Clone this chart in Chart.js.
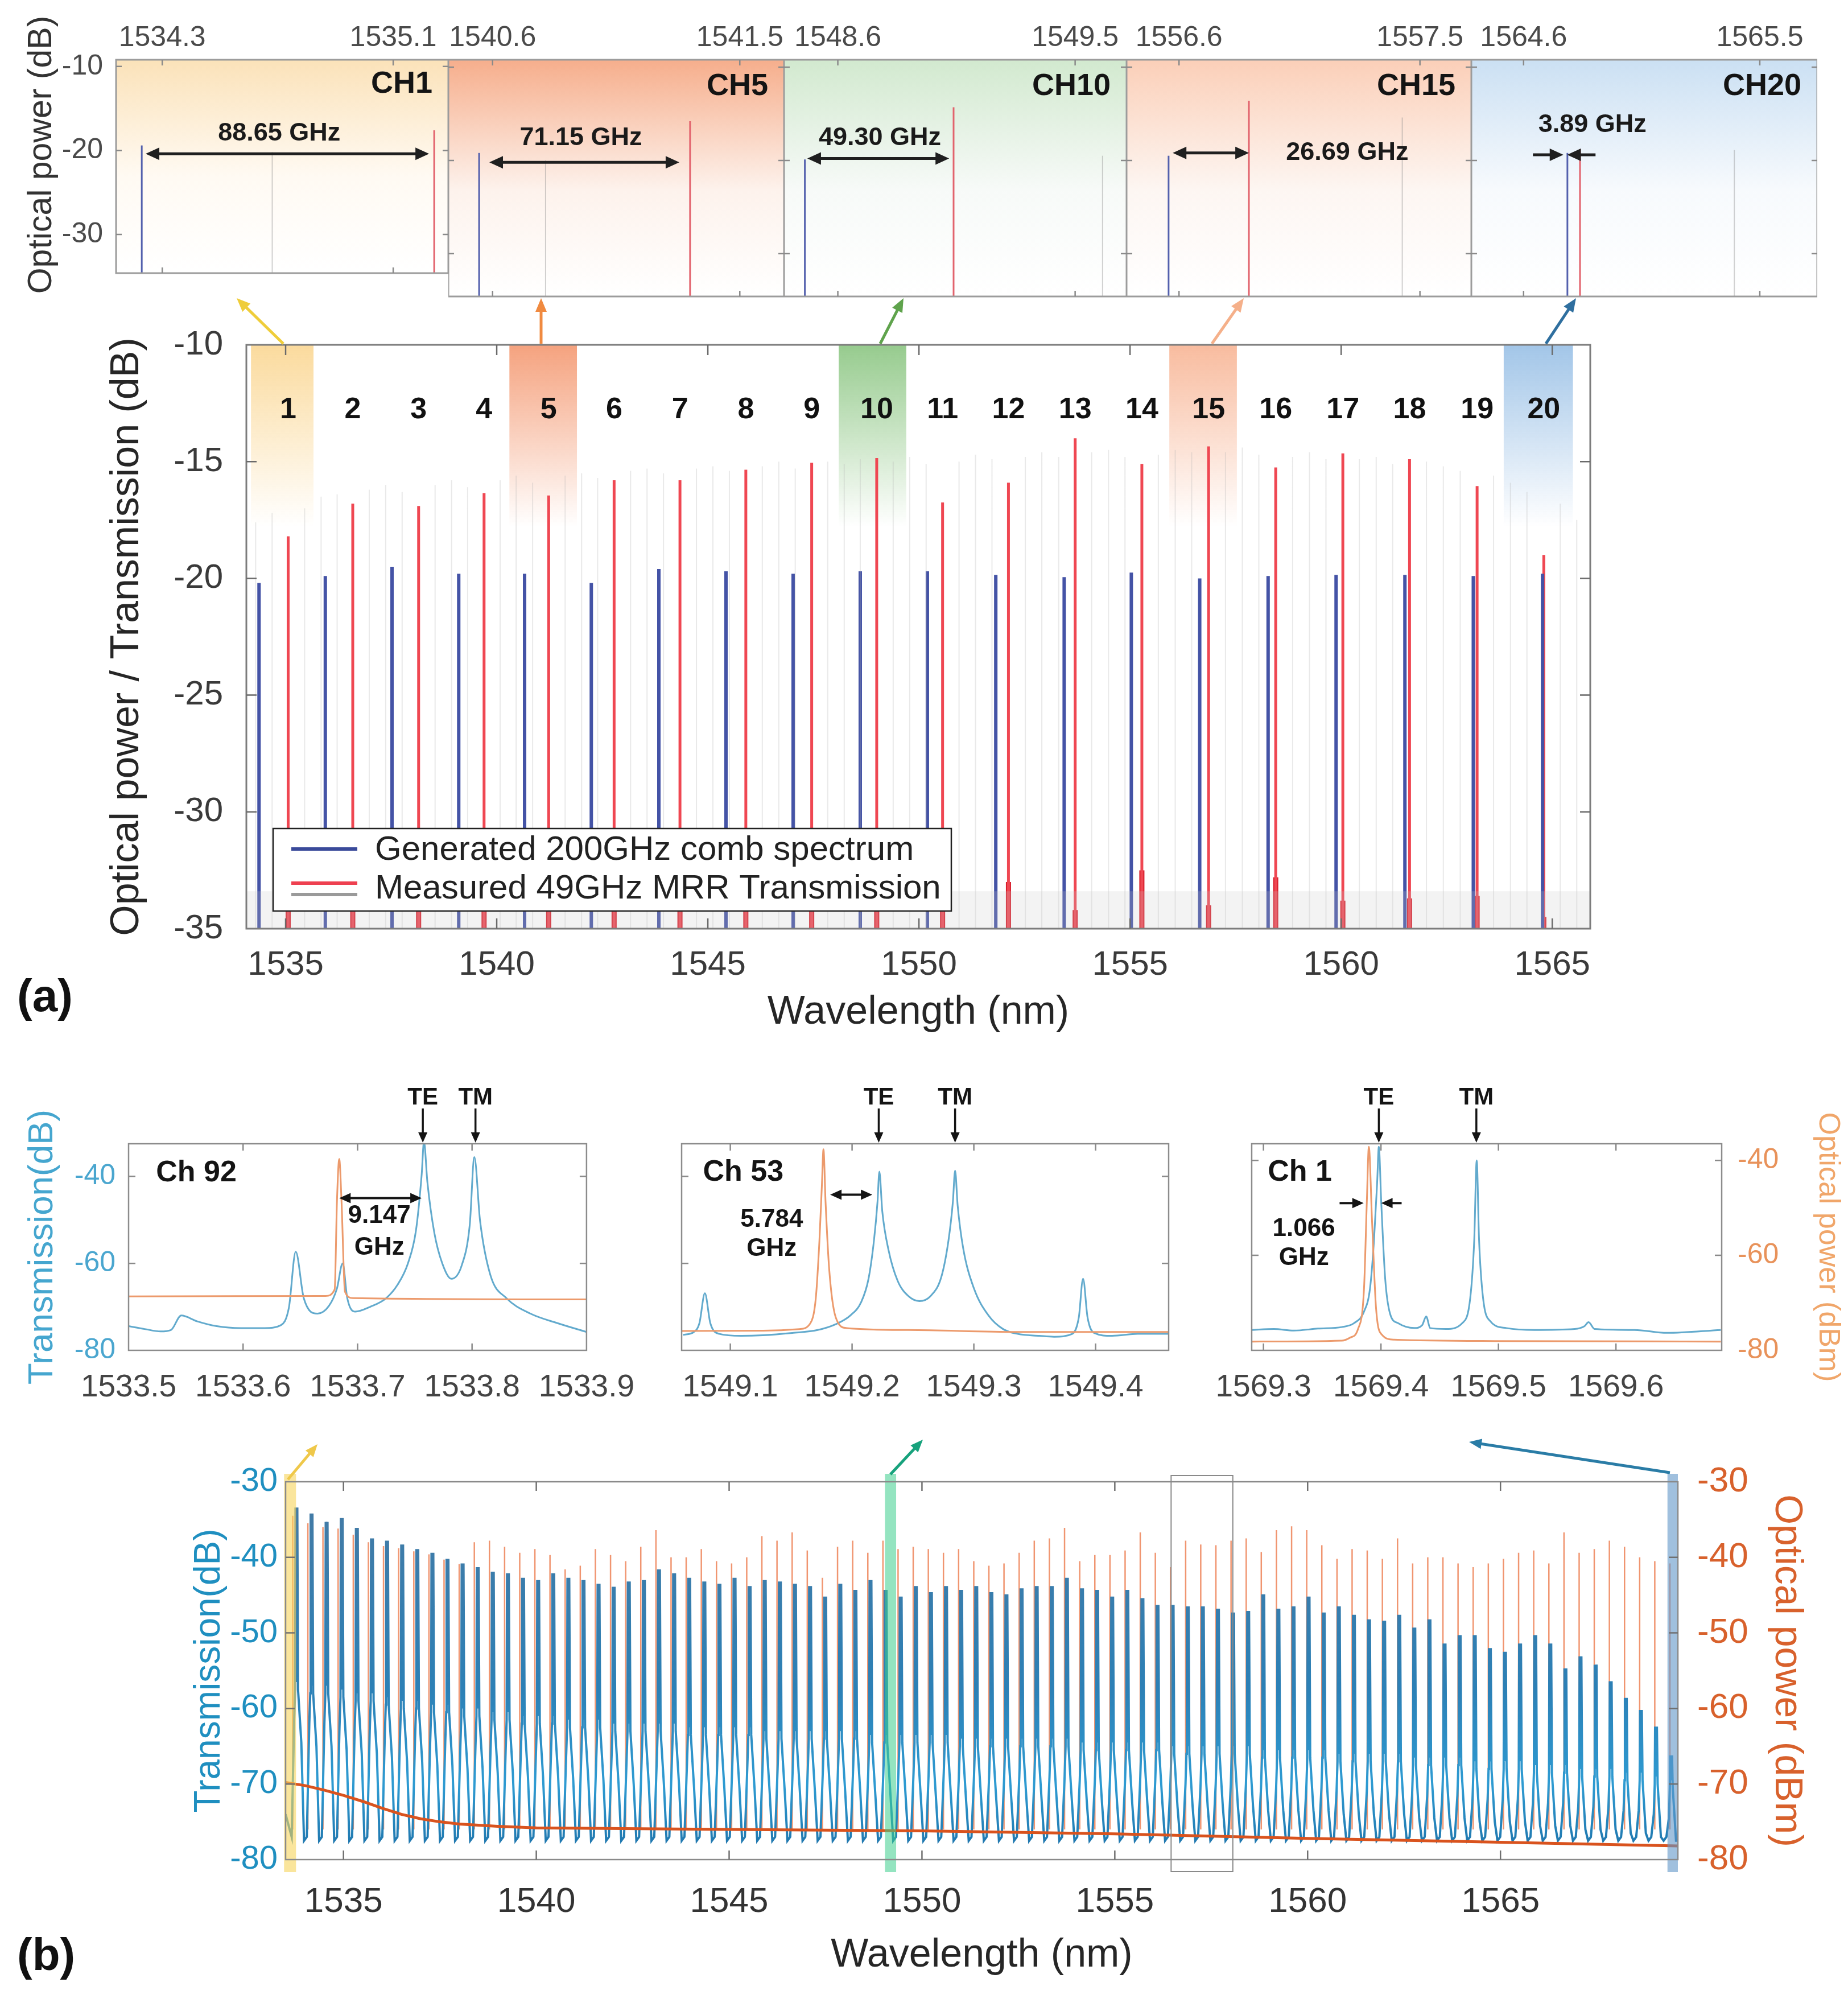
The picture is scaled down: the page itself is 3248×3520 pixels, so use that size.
<!DOCTYPE html>
<html>
<head>
<meta charset="utf-8">
<title>MRR comb spectra</title>
<script src="https://cdn.jsdelivr.net/npm/chart.js@4.4.1/dist/chart.umd.min.js"></script>
<style>
  html, body { margin: 0; padding: 0; background: #ffffff; }
  #page { position: relative; width: 3248px; height: 3520px; overflow: hidden; background: #ffffff; }
  #page canvas { position: absolute; }
  .tag { position: absolute; font-family: "Liberation Sans", Arial, Helvetica, sans-serif; font-weight: bold; font-size: 80px; line-height: 1; color: #111; }
</style>
</head>
<body>
<div id="page">
  <div class="tag" style="left:30px; top:1710px;">(a)</div>
  <div class="tag" style="left:30px; top:3395px;">(b)</div>
</div>
<script>
// ======================= DATA =======================
// ---- (a) top strip: zoomed views of selected channels ----
const zoomLabels   = ['CH1', 'CH5', 'CH10', 'CH15', 'CH20'];
const zoomTickLo   = [1534.3, 1540.6, 1548.6, 1556.6, 1564.6];
const zoomTickHi   = [1535.1, 1541.5, 1549.5, 1557.5, 1565.5];
const zoomMin      = [1534.140, 1540.439, 1548.396, 1556.404, 1564.401];
const zoomMax      = [1535.291, 1541.661, 1549.695, 1557.692, 1565.719];
const zoomCombWl   = [1534.229, 1540.551, 1548.475, 1556.561, 1564.767];
const zoomCombDb   = [-19.4, -19.2, -19.9, -19.5, -19.2];
const zoomMrrWl    = [1535.242, 1541.319, 1549.039, 1556.861, 1564.815];
const zoomMrrDb    = [-17.6, -15.8, -14.3, -13.6, -18.8];
const zoomGhostWl  = [1534.681, 1540.793, 1549.604, 1557.434, 1565.403];
const zoomGhostDb  = [-20.2, -20.0, -19.5, -15.4, -18.9];
const zoomSpacing  = ['88.65 GHz', '71.15 GHz', '49.30 GHz', '26.69 GHz', '3.89 GHz'];
const zoomYTicks   = [-30, -20, -10];

// ---- (a) main panel ----
const chanNo = [1,2,3,4,5,6,7,8,9,10,11,12,13,14,15,16,17,18,19,20];
const combWl = [1534.37,1535.94,1537.52,1539.10,1540.66,1542.24,1543.84,1545.43,1547.02,1548.61,
                1550.20,1551.82,1553.44,1555.03,1556.65,1558.27,1559.88,1561.51,1563.13,1564.77];
const combDb = [-20.2,-19.9,-19.5,-19.8,-19.8,-20.2,-19.6,-19.7,-19.8,-19.7,
                -19.7,-19.85,-19.95,-19.75,-20.0,-19.9,-19.85,-19.85,-19.9,-19.8];
const mrrWl  = [1535.06,1536.59,1538.15,1539.70,1541.23,1542.78,1544.34,1545.90,1547.46,1549.00,
                1550.56,1552.12,1553.70,1555.28,1556.86,1558.45,1560.04,1561.62,1563.22,1564.80];
const mrrDb  = [-18.2,-16.8,-16.9,-16.35,-16.45,-15.8,-15.8,-15.35,-15.05,-14.85,
                -16.75,-15.9,-14.0,-15.1,-14.35,-15.25,-14.65,-14.9,-16.05,-19.0];
const mrrFootDb = [-34.0,-34.2,-34.0,-34.1,-34.0,-34.2,-34.0,-34.1,-34.0,-34.2,
                   -34.0,-33.0,-34.2,-32.5,-34.0,-32.8,-33.8,-33.7,-33.6,-34.5];
const ghostWl = [1534.29,1534.68,1535.45,1535.84,1536.22,1536.98,1537.37,1537.76,1538.54,1538.93,1539.31,
                 1540.08,1540.46,1540.85,1541.62,1542.01,1542.39,1543.17,1543.56,1543.95,1544.73,1545.12,1545.51,
                 1546.29,1546.68,1547.07,1547.84,1548.23,1548.61,1549.39,1549.78,1550.17,1550.95,1551.34,1551.73,
                 1552.52,1552.91,1553.31,1554.09,1554.49,1554.88,1555.67,1556.07,1556.46,1557.26,1557.66,1558.05,
                 1558.85,1559.25,1559.64,1560.43,1560.83,1561.22,1562.02,1562.42,1562.82,1563.61,1564.01,1564.40,
                 1565.19,1565.58];
const ghostDb = [-17.6,-17.2,-17.0,-16.5,-16.4,-16.2,-16.0,-16.3,-16.0,-15.8,-16.1,
                 -15.8,-15.6,-15.9,-15.6,-15.5,-15.7,-15.4,-15.3,-15.5,-15.3,-15.2,-15.4,
                 -15.2,-15.0,-15.3,-15.0,-15.1,-14.9,-15.0,-14.8,-15.1,-15.0,-14.7,-14.9,
                 -14.8,-14.6,-14.8,-14.6,-14.5,-14.8,-14.7,-14.5,-14.6,-14.6,-14.4,-14.7,
                 -14.8,-14.6,-14.9,-14.9,-14.8,-15.1,-15.0,-15.2,-15.4,-15.6,-15.9,-16.3,
                 -16.8,-17.5];
const noiseWl = [1534.07, 1565.9];
const noiseDb = [-33.4, -33.4];
const bandLoWl = [1534.18, 1540.30, 1548.10, 1555.93, 1563.85];
const bandHiWl = [1535.66, 1541.90, 1549.70, 1557.53, 1565.49];
const aXTicks = [1535, 1540, 1545, 1550, 1555, 1560, 1565];
const aYTicks = [-35, -30, -25, -20, -15, -10];

// ---- (b) insets ----
const ch92TransWl = [1533.500,1533.514,1533.528,1533.537,1533.546,1533.560,1533.577,1533.598,1533.619,1533.633,
                     1533.640,1533.646,1533.653,1533.665,1533.675,1533.682,1533.687,1533.691,1533.698,1533.711,
                     1533.725,1533.735,1533.744,1533.751,1533.756,1533.758,1533.761,1533.767,1533.774,1533.782,
                     1533.791,1533.798,1533.802,1533.807,1533.816,1533.830,1533.851,1533.875,1533.900];
const ch92TransDb = [-74.45,-75.11,-75.65,-75.33,-72.00,-73.34,-74.45,-74.89,-74.89,-74.22,
                     -70.23,-57.34,-68.00,-71.56,-69.78,-65.78,-60.01,-68.00,-71.11,-70.00,
                     -68.00,-64.89,-60.01,-52.45,-39.57,-32.00,-41.35,-52.90,-60.01,-63.56,
                     -60.45,-51.12,-35.57,-50.23,-62.67,-68.00,-71.56,-73.78,-75.78];
const ch92PumpWl = [1533.500,1533.672,1533.680,1533.682,1533.684,1533.686,1533.689,1533.696,1533.900];
const ch92PumpDb = [-67.6,-67.5,-66.0,-45.79,-36.01,-45.79,-66.5,-68.0,-68.3];

const ch53TransWl = [1549.0611,1549.0701,1549.0746,1549.0791,1549.0836,1549.0910,1549.1089,1549.1268,1549.1508,1549.1717,
                     1549.1866,1549.1985,1549.2075,1549.2135,1549.2180,1549.2209,1549.2224,1549.2248,1549.2299,1549.2374,
                     1549.2464,1549.2553,1549.2643,1549.2733,1549.2792,1549.2828,1549.2846,1549.2867,1549.2912,1549.3001,
                     1549.3121,1549.3240,1549.3360,1549.3539,1549.3659,1549.3808,1549.3862,1549.3897,1549.3934,1549.3987,
                     1549.4136,1549.4346,1549.4608];
const ch53TransDb = [-76.45,-75.78,-73.78,-66.89,-73.78,-76.22,-76.67,-76.53,-76.00,-75.33,
                     -74.00,-72.00,-68.89,-63.56,-54.67,-45.79,-38.90,-48.01,-56.90,-64.00,
                     -67.56,-68.67,-67.56,-63.12,-54.67,-45.79,-38.68,-46.68,-56.45,-65.78,
                     -72.00,-75.11,-76.22,-76.67,-76.89,-76.22,-72.45,-63.56,-72.45,-76.00,
                     -76.67,-76.22,-76.22];
const ch53PumpWl = [1549.0596,1549.1268,1549.1567,1549.1657,1549.1702,1549.1732,1549.1753,1549.1765,1549.1782,1549.1812,
                    1549.1866,1549.1955,1549.2464,1549.3360,1549.4608];
const ch53PumpDb = [-75.56,-75.47,-75.11,-73.78,-68.00,-54.67,-41.35,-33.79,-45.79,-61.34,
                    -72.45,-74.89,-75.33,-75.78,-75.78];

const ch1TransWl = [1569.2900,1569.3088,1569.3258,1569.3463,1569.3668,1569.3770,1569.3856,1569.3907,1569.3941,1569.3968,
                    1569.3982,1569.4002,1569.4036,1569.4077,1569.4146,1569.4283,1569.4351,1569.4385,1569.4419,1569.4555,
                    1569.4692,1569.4760,1569.4794,1569.4815,1569.4835,1569.4869,1569.4931,1569.5067,1569.5306,1569.5648,
                    1569.5733,1569.5767,1569.5818,1569.6159,1569.6433,1569.6893];
const ch1TransDb = [-75.71,-75.51,-75.84,-75.43,-75.10,-74.29,-71.84,-66.94,-56.73,-44.49,
                    -37.14,-48.57,-64.90,-72.24,-74.29,-75.31,-74.69,-72.86,-75.31,-75.51,
                    -74.29,-68.98,-56.73,-40.00,-56.73,-68.98,-73.88,-75.31,-75.71,-75.51,
                    -74.90,-74.08,-75.51,-75.71,-76.33,-75.71];
const ch1PumpWl = [1569.2900,1569.3668,1569.3736,1569.3805,1569.3856,1569.3880,1569.3897,1569.3924,1569.3958,1569.4009,
                   1569.4111,1569.4965,1569.6893];
const ch1PumpDb = [-78.16,-77.96,-77.35,-75.51,-66.94,-48.57,-37.14,-52.65,-71.02,-76.73,
                   -77.76,-78.04,-78.16];

const inset1XTicks = [1533.5, 1533.6, 1533.7, 1533.8, 1533.9];
const inset2XTicks = [1549.1, 1549.2, 1549.3, 1549.4];
const inset3XTicks = [1569.3, 1569.4, 1569.5, 1569.6];
const insetYTicks = [-80, -60, -40];

// ---- (b) main panel: 92 channels ----
const chTeWl = [1533.757,1534.149,1534.540,1534.932,1535.324,1535.716,1536.107,1536.499,1536.891,1537.283,
                1537.674,1538.066,1538.458,1538.849,1539.241,1539.633,1540.025,1540.416,1540.808,1541.200,
                1541.591,1541.983,1542.375,1542.766,1543.158,1543.550,1543.941,1544.333,1544.725,1545.117,
                1545.508,1545.900,1546.292,1546.684,1547.075,1547.467,1547.859,1548.250,1548.642,1549.034,
                1549.425,1549.817,1550.209,1550.600,1550.992,1551.384,1551.776,1552.167,1552.559,1552.951,
                1553.342,1553.734,1554.126,1554.518,1554.909,1555.301,1555.693,1556.084,1556.476,1556.868,
                1557.259,1557.651,1558.043,1558.435,1558.826,1559.218,1559.610,1560.001,1560.393,1560.785,
                1561.176,1561.568,1561.960,1562.352,1562.743,1563.135,1563.527,1563.918,1564.310,1564.702,
                1565.093,1565.485,1565.877,1566.269,1566.660,1567.052,1567.444,1567.835,1568.227,1568.619,
                1569.010,1569.402];
const chTeDb = [-33.4,-34.2,-35.3,-34.8,-36.1,-37.5,-37.8,-38.3,-38.9,-39.4,
                -40.2,-40.8,-41.3,-41.9,-42.1,-42.7,-43.0,-42.1,-42.7,-43.0,
                -43.5,-43.9,-43.2,-43.0,-41.6,-42.1,-42.7,-43.2,-43.5,-42.7,
                -43.8,-43.0,-43.2,-43.5,-43.8,-45.2,-43.5,-44.3,-43.0,-44.3,
                -45.2,-43.8,-44.6,-43.8,-44.3,-43.8,-44.6,-44.9,-44.1,-43.8,
                -43.8,-42.7,-44.1,-44.3,-45.2,-44.3,-45.4,-46.3,-46.3,-46.5,
                -46.5,-46.8,-47.3,-47.1,-44.9,-46.8,-46.5,-45.2,-47.3,-46.5,
                -47.6,-48.2,-48.4,-47.6,-49.3,-48.2,-51.4,-50.3,-50.3,-52.0,
                -52.5,-51.4,-50.3,-51.4,-54.7,-53.1,-54.2,-56.4,-58.6,-60.2,
                -62.4,-66.2];
const chSkirtDb = [-57.5,-58,-58,-58.5,-59,-59,-59.5,-60,-60,-60.5,
                   -60.5,-61,-61,-61.5,-61.5,-62,-62,-62,-62.5,-62.5,
                   -62.5,-63,-63,-63,-63,-63,-63.5,-63.5,-63.5,-63.5,
                   -63.5,-64,-64,-64,-64,-64,-64,-64,-64.5,-64.5,
                   -64.5,-64.5,-64.5,-64.5,-65,-65,-65,-65,-65,-65,
                   -65,-65,-65.5,-65.5,-65.5,-65.5,-65.5,-65.5,-66,-66,
                   -66,-66,-66,-66,-66.5,-66.5,-66.5,-66.5,-66.5,-67,
                   -67,-67,-67,-67,-67.5,-67.5,-67.5,-67.5,-68,-68,
                   -68,-68,-68.5,-68.5,-68.5,-69,-69,-69,-69.5,-69.5,
                   -70,-70.5];
const transFloorDb = -77;
const pumpWl = [1533.684,1534.077,1534.468,1534.861,1535.254,1535.646,1536.038,1536.431,1536.824,1537.216,
                1537.608,1538.001,1538.393,1538.785,1539.178,1539.570,1539.963,1540.355,1540.748,1541.140,
                1541.532,1541.925,1542.317,1542.709,1543.102,1543.494,1543.886,1544.279,1544.672,1545.064,
                1545.456,1545.849,1546.241,1546.634,1547.026,1547.418,1547.811,1548.203,1548.596,1548.988,
                1549.380,1549.773,1550.165,1550.557,1550.950,1551.343,1551.735,1552.127,1552.520,1552.912,
                1553.304,1553.697,1554.090,1554.482,1554.874,1555.267,1555.660,1556.051,1556.444,1556.837,
                1557.228,1557.621,1558.014,1558.407,1558.798,1559.191,1559.584,1559.976,1560.368,1560.761,
                1561.153,1561.545,1561.938,1562.331,1562.723,1563.115,1563.508,1563.900,1564.292,1564.685,
                1565.077,1565.470,1565.862,1566.255,1566.647,1567.040,1567.432,1567.824,1568.217,1568.609,
                1569.001,1569.394];
const pumpDb = [-34.5,-35.5,-36.0,-36.2,-37.0,-38.0,-38.5,-38.8,-39.2,-39.6,
                -40.3,-40.9,-38.0,-37.8,-38.6,-39.4,-38.9,-39.7,-41.6,-41.1,
                -38.9,-39.7,-40.5,-38.6,-36.4,-40.0,-40.0,-38.9,-40.5,-40.8,
                -40.0,-37.2,-37.8,-36.7,-39.1,-42.7,-38.6,-37.8,-39.4,-37.8,
                -38.9,-38.6,-38.9,-39.4,-38.9,-40.5,-41.1,-40.8,-39.4,-37.8,
                -37.5,-36.1,-40.5,-39.7,-39.7,-39.1,-36.7,-39.4,-41.3,-37.8,
                -38.3,-38.4,-37.8,-37.5,-39.3,-36.4,-35.9,-36.4,-38.4,-40.2,
                -38.9,-39.1,-40.2,-37.5,-40.8,-40.0,-40.0,-40.8,-41.3,-40.8,
                -40.2,-39.4,-39.1,-40.8,-36.7,-39.4,-38.9,-37.8,-38.6,-40.0,
                -40.5,-40.8];
const pumpBaseWl = [1533.5,1534.0,1534.5,1535.0,1535.5,1536.0,1536.5,1537.0,1537.5,1538.0,
                    1539.0,1540.0,1545.0,1550.0,1555.0,1560.0,1565.0,1569.6];
const pumpBaseDb = [-69.8,-70.2,-70.8,-71.5,-72.3,-73.2,-74.0,-74.6,-75.0,-75.3,
                    -75.6,-75.8,-76.0,-76.2,-76.6,-77.2,-77.7,-78.2];
const bXTicks = [1535, 1540, 1545, 1550, 1555, 1560, 1565];
const bYTicks = [-80, -70, -60, -50, -40, -30];

// ======================= SETUP =======================
const FONT = '"Liberation Sans", Arial, Helvetica, sans-serif';
Chart.defaults.font.family = FONT;
Chart.defaults.color = '#333';
Chart.defaults.animation = false;
Chart.defaults.responsive = false;
Chart.defaults.maintainAspectRatio = false;
Chart.defaults.devicePixelRatio = 1;
Chart.defaults.events = [];
Chart.defaults.plugins.legend.display = false;
Chart.defaults.plugins.tooltip.enabled = false;
Chart.defaults.elements.point.radius = 0;
Chart.defaults.elements.line.tension = 0;
Chart.defaults.elements.line.borderCapStyle = 'butt';

function mk(id, left, top, w, h) {
  const c = document.createElement('canvas');
  c.id = id; c.width = w; c.height = h;
  c.style.left = left + 'px'; c.style.top = top + 'px';
  c.style.width = w + 'px'; c.style.height = h + 'px';
  document.getElementById('page').appendChild(c);
  return c.getContext('2d');
}
const fixW = w => s => { s.width = w; };
const fixH = h => s => { s.height = h; };
const setTicks = vals => s => { s.ticks = vals.map(v => ({ value: v })); };
function xy(xs, ys) { return xs.map((x, i) => ({ x: x, y: ys[i] })); }
function spikes(wls, lo, his) {
  const d = [];
  wls.forEach((w, i) => {
    d.push({ x: w, y: Array.isArray(lo) ? lo[i] : lo }, { x: w, y: his[i] }, { x: w, y: null });
  });
  return d;
}
function seg(ctx, x1, y1, x2, y2, color, w) {
  ctx.save(); ctx.strokeStyle = color; ctx.lineWidth = w; ctx.lineCap = 'butt';
  ctx.beginPath(); ctx.moveTo(x1, y1); ctx.lineTo(x2, y2); ctx.stroke(); ctx.restore();
}
function headAt(ctx, x, y, ang, len, wid, color) {
  ctx.save(); ctx.translate(x, y); ctx.rotate(ang); ctx.fillStyle = color;
  ctx.beginPath(); ctx.moveTo(0, 0); ctx.lineTo(-len, wid / 2); ctx.lineTo(-len, -wid / 2); ctx.closePath(); ctx.fill();
  ctx.restore();
}
function arrow(ctx, x1, y1, x2, y2, o) {
  const color = o.color || '#1a1a1a', w = o.w || 4, len = o.len || 22, wid = o.wid || 20;
  const ang = Math.atan2(y2 - y1, x2 - x1);
  const sx = o.both ? x1 + Math.cos(ang) * len * 0.8 : x1;
  const sy = o.both ? y1 + Math.sin(ang) * len * 0.8 : y1;
  const ex = x2 - Math.cos(ang) * len * 0.8, ey = y2 - Math.sin(ang) * len * 0.8;
  seg(ctx, sx, sy, ex, ey, color, w);
  headAt(ctx, x2, y2, ang, len, wid, color);
  if (o.both) headAt(ctx, x1, y1, ang + Math.PI, len, wid, color);
}
function text(ctx, str, x, y, size, color, align, bold, rot) {
  ctx.save(); ctx.font = (bold ? 'bold ' : '') + size + 'px ' + FONT;
  ctx.fillStyle = color; ctx.textAlign = align || 'center'; ctx.textBaseline = 'middle';
  ctx.translate(x, y); if (rot) ctx.rotate(rot);
  ctx.fillText(str, 0, 0); ctx.restore();
}
function frame(chart, color, w) {
  const { ctx, chartArea: a } = chart;
  ctx.save(); ctx.strokeStyle = color; ctx.lineWidth = w;
  ctx.strokeRect(a.left, a.top, a.width, a.height); ctx.restore();
}
function inwardTicks(chart, xId, xVals, ySpecs, len, color) {
  const { ctx, chartArea: a } = chart;
  ctx.save(); ctx.strokeStyle = color; ctx.lineWidth = 2.5; ctx.beginPath();
  const xs = chart.scales[xId];
  xVals.forEach(v => {
    const p = xs.getPixelForValue(v);
    if (p < a.left + 3 || p > a.right - 3) return;
    ctx.moveTo(p, a.bottom); ctx.lineTo(p, a.bottom - len);
    ctx.moveTo(p, a.top); ctx.lineTo(p, a.top + len);
  });
  ySpecs.forEach(sp => {
    const ys = chart.scales[sp[0]];
    sp[1].forEach(v => {
      const p = ys.getPixelForValue(v);
      if (p < a.top + 3 || p > a.bottom - 3) return;
      if (sp[2].indexOf('L') >= 0) { ctx.moveTo(a.left, p); ctx.lineTo(a.left + len, p); }
      if (sp[2].indexOf('R') >= 0) { ctx.moveTo(a.right, p); ctx.lineTo(a.right - len, p); }
    });
  });
  ctx.stroke(); ctx.restore();
}

// ======================= (a) TOP STRIP =======================
const stripEdges = [204, 788, 1378, 1980, 2586, 3194];
const stripBg = [['#fbe2b9', '#fffaf3'], ['#f6ae8c', '#fdf2ec'], ['#d2e9cf', '#f7faf8'],
                 ['#fbcfb8', '#fdf6f2'], ['#cbe0f3', '#f7fafd']];
const stripNotes = [
  { arrows: [[0.089, 0.942, -20.4, true]], text: [0.491, -18.0] },
  { arrows: [[0.122, 0.688, -20.2, true]], text: [0.395, -17.6] },
  { arrows: [[0.068, 0.482, -19.8, true]], text: [0.280, -17.6] },
  { arrows: [[0.134, 0.355, -19.2, true]], text: [0.640, -19.2] },
  { arrows: [[0.178, 0.266, -19.4, false], [0.359, 0.277, -19.4, false]], text: [0.350, -16.2] }
];
zoomLabels.forEach((lab, i) => {
  const left = i === 0 ? 0 : stripEdges[i];
  const w = stripEdges[i + 1] - left;
  const ctx = mk('strip' + i, left, 0, w, 525);
  new Chart(ctx, {
    type: 'line',
    data: { datasets: [
      { data: spikes([zoomGhostWl[i]], -34.6, [zoomGhostDb[i]]), borderColor: 'rgba(140,140,140,0.4)', borderWidth: 2 },
      { data: spikes([zoomCombWl[i]], -34.6, [zoomCombDb[i]]), borderColor: '#5360ad', borderWidth: 3 },
      { data: spikes([zoomMrrWl[i]], -34.6, [zoomMrrDb[i]]), borderColor: '#e2636d', borderWidth: 3 }
    ] },
    options: {
      layout: { padding: { left: i === 0 ? 39 : 0, right: 0, top: 0, bottom: 4 } },
      scales: {
        x: { type: 'linear', position: 'top', min: zoomMin[i], max: zoomMax[i],
             afterBuildTicks: setTicks([zoomTickLo[i], zoomTickHi[i]]), afterFit: fixH(105),
             ticks: { font: { size: 50 }, color: '#4a4a4a', padding: 0, autoSkip: false, maxRotation: 0,
                      callback: v => Number(v).toFixed(1) },
             grid: { display: false }, border: { display: false } },
        y: { type: 'linear', min: -34.6, max: -9.2, afterBuildTicks: setTicks(zoomYTicks), afterFit: fixW(i === 0 ? 165 : 0),
             ticks: { display: i === 0, font: { size: 50 }, color: '#4a4a4a', padding: 15, callback: v => String(v) },
             grid: { display: false }, border: { display: false } }
      }
    },
    plugins: [{
      id: 'stripDeco' + i,
      beforeDatasetsDraw(chart) {
        const { ctx, chartArea: a } = chart;
        const g = ctx.createLinearGradient(0, a.top, 0, a.bottom);
        g.addColorStop(0, stripBg[i][0]); g.addColorStop(0.55, stripBg[i][1]); g.addColorStop(1, '#ffffff');
        ctx.save(); ctx.fillStyle = g; ctx.fillRect(a.left, a.top, a.width, a.height); ctx.restore();
      },
      afterDatasetsDraw(chart) {
        const { ctx, chartArea: a, scales: { y } } = chart;
        frame(chart, '#9c9c9c', 3);
        inwardTicks(chart, 'x', [zoomTickLo[i], zoomTickHi[i]], [['y', zoomYTicks, 'LR']], 10, '#8a8a8a');
        text(ctx, lab, a.right - 28, y.getPixelForValue(-12.1), 54, '#141414', 'right', true);
        const n = stripNotes[i];
        n.arrows.forEach(ar => {
          const x1 = a.left + ar[0] * a.width, x2 = a.left + ar[1] * a.width, yy = y.getPixelForValue(ar[2]);
          arrow(ctx, x1, yy, x2, yy, { both: ar[3], w: 5, len: 24, wid: 22, color: '#1f1f1f' });
        });
        text(ctx, zoomSpacing[i], a.left + n.text[0] * a.width, y.getPixelForValue(n.text[1]), 45, '#1a1a1a', 'center', true);
      },
      afterDraw(chart) {
        if (i === 0) text(chart.ctx, 'Optical power (dB)', 74, 272, 59, '#333', 'center', false, -Math.PI / 2);
      }
    }]
  });
});

// ======================= (a) MAIN =======================
const bandFill = ['rgba(250,212,140,', 'rgba(243,146,104,', 'rgba(132,194,122,', 'rgba(247,176,142,', 'rgba(146,188,228,'];
const ctxA = mk('mainA', 0, 500, 3248, 1322);
new Chart(ctxA, {
  type: 'line',
  data: { datasets: [
    { data: xy(noiseWl, noiseDb), borderWidth: 0, fill: 'start', backgroundColor: 'rgba(200,200,200,0.22)' },
    { data: spikes(ghostWl, -35, ghostDb), borderColor: 'rgba(175,175,175,0.28)', borderWidth: 2 },
    { data: spikes(combWl, -35, combDb), borderColor: '#4453a6', borderWidth: 6 },
    { data: spikes(mrrWl, -35, mrrDb), borderColor: '#ef4752', borderWidth: 5 },
    { data: spikes(mrrWl, -35, mrrFootDb), borderColor: '#d81f2c', borderWidth: 9 }
  ] },
  options: {
    layout: { padding: { left: 182, right: 453, top: 106, bottom: 0 } },
    scales: {
      x: { type: 'linear', min: 1534.07, max: 1565.9, afterBuildTicks: setTicks(aXTicks), afterFit: fixH(190),
           ticks: { font: { size: 60 }, color: '#3a3a3a', padding: 20, autoSkip: false, maxRotation: 0, callback: v => String(v) },
           grid: { display: false }, border: { display: false },
           title: { display: true, text: 'Wavelength (nm)', font: { size: 70 }, color: '#262626', padding: { top: 0, bottom: 0 } } },
      y: { type: 'linear', min: -35, max: -10, afterBuildTicks: setTicks(aYTicks), afterFit: fixW(251),
           ticks: { font: { size: 60 }, color: '#3a3a3a', padding: 33, callback: v => String(v) },
           grid: { display: false }, border: { display: false },
           title: { display: true, text: 'Optical power / Transmission (dB)', font: { size: 70 }, color: '#262626', padding: 0 } }
    }
  },
  plugins: [{
    id: 'decoA',
    beforeDatasetsDraw(chart) {
      const { ctx, chartArea: a, scales: { x, y } } = chart;
      const yEnd = y.getPixelForValue(-17.8);
      ctx.save();
      bandLoWl.forEach((lo, j) => {
        const x1 = x.getPixelForValue(lo), x2 = x.getPixelForValue(bandHiWl[j]);
        const g = ctx.createLinearGradient(0, a.top, 0, yEnd);
        g.addColorStop(0, bandFill[j] + '0.85)'); g.addColorStop(1, bandFill[j] + '0)');
        ctx.fillStyle = g; ctx.fillRect(x1, a.top, x2 - x1, yEnd - a.top);
      });
      ctx.restore();
    },
    afterDatasetsDraw(chart) {
      const { ctx, chartArea: a, scales: { x, y } } = chart;
      frame(chart, '#7c7c7c', 3);
      inwardTicks(chart, 'x', aXTicks, [['y', aYTicks, 'LR']], 18, '#6a6a6a');
      chanNo.forEach((c, j) => {
        text(ctx, String(c), x.getPixelForValue(mrrWl[j]), y.getPixelForValue(-12.8), 52, '#111', 'center', true);
      });
      const lx = a.left + 47, ly = a.bottom - 176, lw = 1192, lh = 145;
      ctx.save();
      ctx.fillStyle = '#ffffff'; ctx.fillRect(lx, ly, lw, lh);
      ctx.strokeStyle = '#222'; ctx.lineWidth = 2.5; ctx.strokeRect(lx, ly, lw, lh);
      ctx.restore();
      seg(ctx, lx + 32, ly + 36, lx + 148, ly + 36, '#3a4a9a', 6);
      seg(ctx, lx + 32, ly + 96, lx + 148, ly + 96, '#ee4050', 6);
      seg(ctx, lx + 32, ly + 116, lx + 148, ly + 116, '#9a9a9a', 6);
      text(ctx, 'Generated 200GHz comb spectrum', lx + 179, ly + 38, 60, '#222', 'left', false);
      text(ctx, 'Measured 49GHz MRR Transmission', lx + 179, ly + 106, 60, '#222', 'left', false);
    },
    afterDraw(chart) {
      const { ctx } = chart;
      const conn = [['#efcd3a', 498, 604, 416, 524], ['#f08a40', 951, 604, 951, 524], ['#5fa34c', 1547, 604, 1588, 524],
                    ['#f5b08a', 2130, 604, 2186, 524], ['#2f6f9f', 2717, 604, 2770, 524]];
      conn.forEach(c => arrow(ctx, c[1], c[2] - 500, c[3], c[4] - 500, { color: c[0], w: 5, len: 24, wid: 20 }));
    }
  }]
});

// ======================= (b) INSETS =======================
const insetNotes = [
  { name: 'Ch 92', nameWl: 1533.524, nameDb: -39.3, te: 1533.757, tm: 1533.803,
    arrows: [[1533.684, 1533.756, -45.0, true]], txt: ['9.147', 'GHz'], txtWl: 1533.719, txtDb: [-49.1, -56.4] },
  { name: 'Ch 53', nameWl: 1549.0775, nameDb: -39.1, te: 1549.2219, tm: 1549.2846,
    arrows: [[1549.182, 1549.2166, -44.2, true]], txt: ['5.784', 'GHz'], txtWl: 1549.134, txtDb: [-50.0, -56.7] },
  { name: 'Ch 1', nameWl: 1569.3037, nameDb: -42.6, te: 1569.3982, tm: 1569.4812,
    arrows: [[1569.3648, 1569.3853, -49.0, false], [1569.4176, 1569.4002, -49.0, false]], txt: ['1.066', 'GHz'], txtWl: 1569.3344, txtDb: [-54.4, -60.6] }
];
const insetSpecs = [
  { left: 0, w: 1140, padL: 38, padR: 56, yW: 188, side: 'left', xmin: 1533.5, xmax: 1533.9, ymax: -32.5, xt: inset1XTicks,
    tw: ch92TransWl, td: ch92TransDb, pw: ch92PumpWl, pd: ch92PumpDb },
  { left: 1140, w: 970, padL: 58, padR: 56, yW: 0, side: 'none', xmin: 1549.06, xmax: 1549.46, ymax: -32.5, xt: inset2XTicks,
    tw: ch53TransWl, td: ch53TransDb, pw: ch53PumpWl, pd: ch53PumpDb },
  { left: 2110, w: 1138, padL: 60, padR: 4, yW: 218, side: 'right', xmin: 1569.29, xmax: 1569.69, ymax: -36.5, xt: inset3XTicks,
    tw: ch1TransWl, td: ch1TransDb, pw: ch1PumpWl, pd: ch1PumpDb }
];
insetSpecs.forEach((s, i) => {
  const ctx = mk('inset' + i, s.left, 1880, s.w, 602);
  const isRight = s.side === 'right';
  new Chart(ctx, {
    type: 'line',
    data: { datasets: [
      { data: xy(s.pw, s.pd), borderColor: '#ec9a6c', borderWidth: 3, cubicInterpolationMode: 'monotone' },
      { data: xy(s.tw, s.td), borderColor: '#62aacd', borderWidth: 3, cubicInterpolationMode: 'monotone' }
    ] },
    options: {
      layout: { padding: { left: s.padL, right: s.padR, top: 130, bottom: 0 } },
      scales: {
        x: { type: 'linear', min: s.xmin, max: s.xmax, afterBuildTicks: setTicks(s.xt), afterFit: fixH(109),
             ticks: { font: { size: 55 }, color: '#444', padding: 25, autoSkip: false, maxRotation: 0, callback: v => Number(v).toFixed(1) },
             grid: { display: false }, border: { display: false } },
        y: { type: 'linear', position: isRight ? 'right' : 'left', min: -80, max: s.ymax,
             afterBuildTicks: setTicks(insetYTicks), afterFit: fixW(s.yW),
             ticks: { display: s.side !== 'none', font: { size: 50 }, color: isRight ? '#e8925a' : '#4aa6cf', padding: isRight ? 20 : 15, callback: v => String(v) },
             grid: { display: false }, border: { display: false },
             title: { display: s.side !== 'none', text: isRight ? 'Optical power (dBm)' : 'Transmission(dB)',
                      font: { size: isRight ? 52 : 62 }, color: isRight ? '#f0a66a' : '#45a6cf', padding: 0 } }
      }
    },
    plugins: [{
      id: 'insetDeco' + i,
      afterDatasetsDraw(chart) {
        const { ctx, chartArea: a, scales: { x, y } } = chart;
        const n = insetNotes[i];
        frame(chart, '#8c8c8c', 2.5);
        inwardTicks(chart, 'x', s.xt, [['y', insetYTicks, 'LR']], 12, '#8a8a8a');
        text(ctx, n.name, x.getPixelForValue(n.nameWl), y.getPixelForValue(n.nameDb), 52, '#141414', 'left', true);
        n.arrows.forEach(ar => {
          const yy = y.getPixelForValue(ar[2]);
          arrow(ctx, x.getPixelForValue(ar[0]), yy, x.getPixelForValue(ar[1]), yy, { both: ar[3], w: 4, len: 20, wid: 18, color: '#141414' });
        });
        n.txt.forEach((t, k) => text(ctx, t, x.getPixelForValue(n.txtWl), y.getPixelForValue(n.txtDb[k]), 44, '#141414', 'center', true));
        [['TE', n.te], ['TM', n.tm]].forEach(m => {
          const px = x.getPixelForValue(m[1]);
          text(ctx, m[0], px, a.top - 81, 42, '#141414', 'center', true);
          arrow(ctx, px, a.top - 62, px, a.top - 2, { w: 3.5, len: 18, wid: 16, color: '#141414' });
        });
      }
    }]
  });
});

// ======================= (b) MAIN =======================
function buildTransmission() {
  const pts = [{ x: 1533.5, y: -74 }];
  chTeWl.forEach((w, k) => {
    const h = chTeDb[k], s = chSkirtDb[k];
    pts.push({ x: w - 0.10, y: transFloorDb });
    pts.push({ x: w - 0.035, y: s - 4 });
    pts.push({ x: w - 0.01, y: s });
    pts.push({ x: w, y: h });
    pts.push({ x: w + 0.022, y: s + 1 });
    pts.push({ x: w + 0.046, y: h });
    pts.push({ x: w + 0.065, y: s });
    pts.push({ x: w + 0.15, y: s - 7 });
    pts.push({ x: w + 0.22, y: transFloorDb - 0.5 });
  });
  return pts;
}
const ctxB = mk('mainB', 0, 2520, 3248, 1000);
new Chart(ctxB, {
  type: 'line',
  data: { datasets: [
    { data: xy(pumpBaseWl, pumpBaseDb), yAxisID: 'yR', borderColor: '#d9531e', borderWidth: 5, order: 0 },
    { data: buildTransmission(), yAxisID: 'yL', borderWidth: 4, order: 1,
      borderColor: c => {
        const a = c.chart.chartArea;
        if (!a) return '#2a7fb5';
        const g = c.chart.ctx.createLinearGradient(0, a.top, 0, a.bottom);
        g.addColorStop(0, '#467aa3'); g.addColorStop(0.55, '#2c80b6'); g.addColorStop(0.8, '#2e9bd2'); g.addColorStop(1, '#1d6fa6');
        return g;
      } },
    { data: spikes(pumpWl, -76, pumpDb), yAxisID: 'yR', borderColor: 'rgba(238,138,96,0.9)', borderWidth: 2.5, order: 2 }
  ] },
  options: {
    layout: { padding: { left: 330, right: 67, top: 84, bottom: 41 } },
    scales: {
      x: { type: 'linear', min: 1533.5, max: 1569.6, afterBuildTicks: setTicks(bXTicks), afterFit: fixH(211),
           ticks: { font: { size: 62 }, color: '#333', padding: 30, autoSkip: false, maxRotation: 0, callback: v => String(v) },
           grid: { display: false }, border: { display: false },
           title: { display: true, text: 'Wavelength (nm)', font: { size: 70 }, color: '#262626', padding: { top: 0, bottom: 0 } } },
      yL: { type: 'linear', position: 'left', min: -80, max: -30, afterBuildTicks: setTicks(bYTicks), afterFit: fixW(172),
            ticks: { font: { size: 58 }, color: '#1f8fc0', padding: 6, callback: v => String(v) },
            grid: { display: false }, border: { display: false },
            title: { display: true, text: 'Transmission(dB)', font: { size: 64 }, color: '#1f8fc0', padding: 0 } },
      yR: { type: 'linear', position: 'right', min: -80, max: -30, afterBuildTicks: setTicks(bYTicks), afterFit: fixW(232),
            ticks: { font: { size: 62 }, color: '#d8612c', padding: 26, callback: v => String(v) },
            grid: { display: false }, border: { display: false },
            title: { display: true, text: 'Optical power (dBm)', font: { size: 68 }, color: '#d8612c', padding: 0 } }
    }
  },
  plugins: [{
    id: 'decoB',
    afterDatasetsDraw(chart) {
      const { ctx, chartArea: a, scales: { x } } = chart;
      const bands = [[1533.46, 1533.77, 'rgba(247,212,90,0.6)'], [1549.04, 1549.33, 'rgba(60,205,140,0.55)'], [1569.33, 1569.6, 'rgba(96,150,200,0.6)']];
      ctx.save();
      bands.forEach(b => {
        const x1 = x.getPixelForValue(b[0]), x2 = x.getPixelForValue(b[1]);
        ctx.fillStyle = b[2]; ctx.fillRect(x1, a.top - 14, x2 - x1, a.height + 36);
      });
      ctx.strokeStyle = '#8a8a8a'; ctx.lineWidth = 2;
      const g1 = x.getPixelForValue(1556.46), g2 = x.getPixelForValue(1558.06);
      ctx.strokeRect(g1, a.top - 11, g2 - g1, a.height + 32);
      ctx.restore();
      frame(chart, '#8a8a8a', 2.5);
      inwardTicks(chart, 'x', bXTicks, [['yL', bYTicks, 'L'], ['yR', bYTicks, 'R']], 16, '#707070');
    },
    afterDraw(chart) {
      const { ctx } = chart;
      const conn = [['#efc84a', 506, 2600, 558, 2538], ['#17a27c', 1565, 2591, 1622, 2530], ['#2a7ca6', 2935, 2588, 2582, 2534]];
      conn.forEach(c => arrow(ctx, c[1], c[2] - 2520, c[3], c[4] - 2520, { color: c[0], w: 5, len: 22, wid: 18 }));
    }
  }]
});
</script>
</body>
</html>
